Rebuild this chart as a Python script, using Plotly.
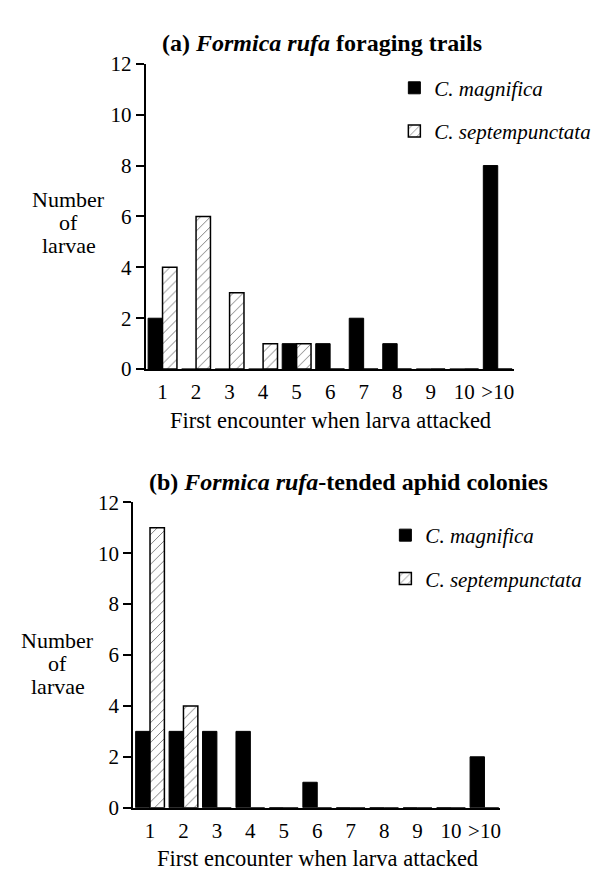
import plotly.graph_objects as go

# ---------------- data ----------------
categories = ["1", "2", "3", "4", "5", "6", "7", "8", "9", "10", ">10"]
positions = list(range(1, len(categories) + 1))

a_magnifica = [2, 0, 0, 0, 1, 1, 2, 1, 0, 0, 8]
a_septempunctata = [4, 6, 3, 1, 1, 0, 0, 0, 0, 0, 0]

b_magnifica = [3, 3, 3, 3, 0, 1, 0, 0, 0, 0, 2]
b_septempunctata = [11, 4, 0, 0, 0, 0, 0, 0, 0, 0, 0]

y_ticks = [0, 2, 4, 6, 8, 10, 12]

# ---------------- layout helpers ----------------
W, H = 604, 872
FONT = "Liberation Serif, Times New Roman, serif"


def px(x):
    return x / W


def py(y):
    return 1 - y / H


BW = 0.43  # bar width in category units

fig = go.Figure()


def add_panel(mag, sep, xa, ya, leg, grp):
    fig.add_trace(go.Bar(
        x=positions, y=mag, width=BW, offset=-BW,
        marker=dict(color="black", line=dict(color="black", width=1)),
        name="<i>C. magnifica</i>", legend=leg, legendgroup=grp + "m",
        xaxis=xa, yaxis=ya,
    ))
    fig.add_trace(go.Bar(
        x=positions, y=sep, width=BW, offset=0,
        marker=dict(color="white", line=dict(color="black", width=1.5),
                    pattern=dict(shape="/", fgcolor="black", bgcolor="white",
                                 size=7, solidity=0.14)),
        name="<i>C. septempunctata</i>", legend=leg, legendgroup=grp + "s",
        xaxis=xa, yaxis=ya,
    ))


add_panel(a_magnifica, a_septempunctata, "x", "y", "legend", "a")
add_panel(b_magnifica, b_septempunctata, "x2", "y2", "legend2", "b")

axis_common = dict(showgrid=False, zeroline=False, showline=True,
                   linecolor="black", linewidth=2,
                   tickfont=dict(family=FONT, size=21, color="black"))

xa_common = dict(axis_common, tickmode="array", tickvals=positions,
                 ticktext=categories, ticks="", ticklabelstandoff=3)
ya_common = dict(axis_common, tickmode="array", tickvals=y_ticks,
                 ticks="outside", ticklen=8, tickwidth=1.5, tickcolor="black",
                 range=[0, 12])

legend_common = dict(font=dict(family=FONT, size=21, color="black"),
                     bgcolor="rgba(0,0,0,0)", tracegroupgap=13,
                     xanchor="left", yanchor="top", itemclick=False)

fig.update_layout(
    width=W, height=H,
    margin=dict(l=0, r=0, t=0, b=0),
    paper_bgcolor="white", plot_bgcolor="white",
    barmode="overlay",
    showlegend=True,
    xaxis=dict(xa_common, domain=[px(138), px(507)], range=[0.5, 11.49], anchor="y"),
    yaxis=dict(ya_common, domain=[py(359), py(45)], anchor="x"),
    xaxis2=dict(xa_common, domain=[px(125.5), px(493)], range=[0.5, 11.47], anchor="y2"),
    yaxis2=dict(ya_common, domain=[py(810), py(496)], anchor="x2"),
    legend=dict(legend_common, x=px(387), y=py(49)),
    legend2=dict(legend_common, x=px(378), y=py(509)),
)

ann_font = dict(family=FONT, size=22.5, color="black")
ylab_font = dict(family=FONT, size=22, color="black")
title_font = dict(family=FONT, size=24, color="black")

annotations = [
    dict(text="<b>(a) <i>Formica rufa</i> foraging trails</b>", x=px(315), y=py(24),
         font=title_font),
    dict(text="<b>(b) <i>Formica rufa</i>-tended aphid colonies</b>", x=px(341), y=py(475),
         font=title_font),
    dict(text="First encounter when larva attacked", x=px(323), y=py(412), font=ann_font),
    dict(text="First encounter when larva attacked", x=px(310), y=py(862), font=ann_font),
]
# y-axis titles, one line each: "Number" / "of" / "larvae"
for cx, cy in [(61, 208), (50, 662)]:
    for word, dy in zip(["Number", "of", "larvae"], [-23.5, 0, 23.5]):
        annotations.append(dict(text=word, x=px(cx), y=py(cy + dy), font=ylab_font))

for a in annotations:
    a.update(xref="paper", yref="paper", xanchor="center", yanchor="middle",
             showarrow=False, align="center")
fig.update_layout(annotations=annotations)

fig.write_html("out.html")
